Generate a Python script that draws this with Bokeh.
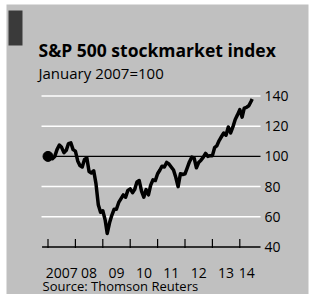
import pandas as pd
from bokeh.plotting import figure
from bokeh.models import Range1d, Label, BoxAnnotation, ColumnDataSource
from bokeh.core.properties import value
from bokeh.embed import file_html
from bokeh.resources import INLINE

title_text = "S&P 500 stockmarket index"
subtitle_text = "January 2007=100"
source_text = "Source: Thomson Reuters"

# monthly observations (start of month) plus the last reading in mid-June 2014
dates = list(pd.date_range("2007-01-01", "2014-06-01", freq="MS")) + [pd.Timestamp("2014-06-15")]
values = [
    # 2007
    100, 101, 98.5, 100, 104.5, 107.5, 106, 102.5, 104, 108.5, 109, 104.5,
    # 2008
    103.5, 97, 94, 93, 98, 99, 90, 89, 90.5, 82, 68, 63,
    # 2009
    64, 58, 49, 56, 61, 65, 65, 69.5, 72, 74.5, 73, 77.5,
    # 2010
    78.5, 76, 78, 83, 84, 77, 73, 78, 74.5, 81, 84.5, 84,
    # 2011
    88.5, 91, 93.5, 93, 96, 95, 93, 91, 86, 80, 88.5, 88,
    # 2012
    88.5, 92.5, 96.5, 99.5, 99, 92.5, 96, 97.5, 99.5, 102, 100, 100.5,
    # 2013
    100.5, 106, 107, 110.5, 113, 115.5, 114, 119.5, 115.5, 119.5, 124.5, 127.5,
    # 2014
    131, 126, 132, 132.5, 133.5, 136.5, 138,
]

year_starts = [2007, 2008, 2009, 2010, 2011, 2012, 2013, 2014]
year_label_pos = [2007.5, 2008.5, 2009.5, 2010.5, 2011.5, 2012.5, 2013.5, 2014.25]
year_labels = ["2007", "08", "09", "10", "11", "12", "13", "14"]
y_ticks = [40, 60, 80, 100, 120, 140]
y_tick_labels = ["40", "60", "80", "100", "120", "140"]
grid_ticks = [60, 80, 120, 140]
ref_level = 100
axis_level = 40

xs = [d.year + (d.dayofyear - 1) / 365.0 for d in dates]
src = ColumnDataSource(dict(x=xs, y=values))

BG = "#c0c0c0"
FONT = "Open Sans"

# scales: the whole canvas is the plotting frame
X0, X1 = 2005.2664, 2016.6898
Y0, Y1 = 8.543, 203.245
GRID_X0, GRID_X1 = 2006.763, 2014.7555
PX_PER_UNIT = 1.51

p = figure(width=313, height=294, output_backend="svg", toolbar_location=None,
           x_range=Range1d(X0, X1), y_range=Range1d(Y0, Y1),
           min_border=0, background_fill_color="white", border_fill_color="white",
           outline_line_color=None, x_axis_location=None, y_axis_location=None)
p.xgrid.visible = False
p.ygrid.visible = False

# textured panel background
p.add_layout(BoxAnnotation(left=6, right=308, bottom=0, top=290,
                           left_units="screen", right_units="screen",
                           bottom_units="screen", top_units="screen",
                           fill_color=BG, fill_alpha=1, line_color=None, level="underlay"))

# horizontal gridlines (white), reference line at 100 (black)
p.segment(x0=GRID_X0, x1=GRID_X1, y0=grid_ticks, y1=grid_ticks, line_color="white", line_width=1.5)
p.segment(x0=GRID_X0 + 0.3, x1=GRID_X1, y0=ref_level, y1=ref_level, line_color="black", line_width=1.2)

# value labels on the right
p.text(x=[GRID_X1] * len(y_ticks), y=y_ticks, text=y_tick_labels, x_offset=4,
       text_align="left", text_baseline="middle",
       text_font=value(FONT), text_font_size="14px", text_color="black")

# time axis: baseline, year ticks and labels
p.segment(x0=GRID_X0 + 0.02, x1=GRID_X1, y0=axis_level, y1=axis_level, line_color="black", line_width=1.5)
p.segment(x0=year_starts, x1=year_starts,
          y0=axis_level - 1 / PX_PER_UNIT, y1=axis_level + 8 / PX_PER_UNIT,
          line_color="black", line_width=1.2)
p.text(x=year_label_pos, y=[axis_level] * len(year_label_pos), text=year_labels,
       y_offset=26, text_align="center", text_baseline="alphabetic",
       text_font=value(FONT), text_font_size="14px", text_color="black")

# data line
p.line("x", "y", source=src, line_color="black", line_width=3.5, line_join="round")
p.scatter(xs[:1], values[:1], size=10, color="black")

# header & footer
p.add_layout(BoxAnnotation(left=8, right=22, bottom=249, top=284,
                           left_units="screen", right_units="screen",
                           bottom_units="screen", top_units="screen",
                           fill_color="#3a3a3a", fill_alpha=1, line_color=None))
p.add_layout(Label(x=38, y=245, x_units="screen", y_units="screen", text=title_text,
                   text_font=FONT, text_font_style="bold", text_font_size="17.5px",
                   text_color="black", text_baseline="alphabetic"))
p.add_layout(Label(x=38, y=222, x_units="screen", y_units="screen", text=subtitle_text,
                   text_font=FONT, text_font_size="15px",
                   text_color="black", text_baseline="alphabetic"))
p.add_layout(Label(x=42, y=9, x_units="screen", y_units="screen", text=source_text,
                   text_font=FONT, text_font_size="13px",
                   text_color="black", text_baseline="alphabetic"))

open("out.html", "w").write(file_html(p, INLINE))
